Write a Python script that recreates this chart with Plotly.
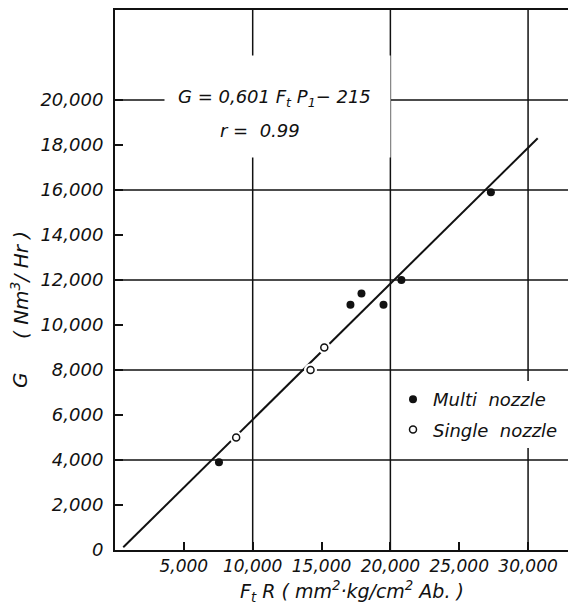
import plotly.graph_objects as go

# ---- data ----
multi_x = [7550, 17100, 17900, 19500, 20800, 27300]
multi_y = [3900, 10900, 11400, 10900, 12000, 15900]
single_x = [8800, 14200, 15200]
single_y = [5000, 8000, 9000]
fit_x = [600, 30700]
fit_y = [120, 18300]

x_tickvals = [5000, 10000, 15000, 20000, 25000, 30000]
x_ticktext = ["5,000", "10,000", "15,000", "20,000", "25,000", "30,000"]
y_tickvals = [0, 2000, 4000, 6000, 8000, 10000, 12000, 14000, 16000, 18000, 20000]
y_ticktext = ["0", "2,000", "4,000", "6,000", "8,000", "10,000", "12,000",
              "14,000", "16,000", "18,000", "20,000"]
x_grid = [10000, 20000, 30000]
y_grid = [4000, 8000, 12000, 16000, 20000]

INK = "#111111"
FONT = "DejaVu Sans"

fig = go.Figure()

fig.add_trace(go.Scatter(x=fit_x, y=fit_y, mode="lines",
                         line=dict(color=INK, width=2), showlegend=False,
                         hoverinfo="skip"))
# white halo making the gap in the line around the open circles
fig.add_trace(go.Scatter(x=single_x, y=single_y, mode="markers",
                         marker=dict(size=13, color="white"), showlegend=False,
                         hoverinfo="skip"))
fig.add_trace(go.Scatter(x=multi_x, y=multi_y, mode="markers", name="Multi  nozzle",
                         legendgroup="a",
                         marker=dict(size=8, color=INK, symbol="circle")))
fig.add_trace(go.Scatter(x=single_x, y=single_y, mode="markers", name="Single  nozzle",
                         legendgroup="b",
                         marker=dict(size=7, color="white", symbol="circle",
                                     line=dict(color=INK, width=1.5))))

shapes = []
for gx in x_grid:
    shapes.append(dict(type="line", xref="x", yref="paper", x0=gx, x1=gx, y0=0, y1=1,
                       line=dict(color=INK, width=1.5), layer="below"))
for gy in y_grid:
    shapes.append(dict(type="line", xref="paper", yref="y", x0=0, x1=1, y0=gy, y1=gy,
                       line=dict(color=INK, width=1.5), layer="below"))

W, H = 568, 606
L, T, B = 115, 10, 56
pw, ph = W - L, H - T - B


def px(xp):
    return (xp - L) / pw


def py(yp):
    return (H - B - yp) / ph


tf = dict(family=FONT, size=18, color=INK, style="italic")
xtf = dict(family=FONT, size=17, color=INK, style="italic")
big = dict(family=FONT, size=20, color=INK, style="italic")


def ann(xp, yp, text, **kw):
    d = dict(xref="paper", yref="paper", x=px(xp), y=py(yp), text=text,
             showarrow=False, xanchor="center", yanchor="middle")
    d.update(kw)
    return d


annotations = [
    # white box interrupting the grid behind the equation
    ann(277.5, 106.5, " ", width=225, height=101, bgcolor="white", borderpad=0),
    ann(274, 98, "G = 0,601 F<sub>t</sub> P<sub>1</sub>− 215", font=tf),
    ann(260, 130, "r =  0.99", font=tf),
    ann(20, 380, "G", textangle=-90, font=big),
    ann(20, 285, "( Nm<sup>3</sup>/ Hr )", textangle=-90, font=big),
    ann(352, 591, "F<sub>t</sub> R ( mm<sup>2</sup>·kg/cm<sup>2</sup> Ab. )",
        font=dict(family=FONT, size=19, color=INK, style="italic")),
]

fig.update_layout(
    width=W, height=H,
    margin=dict(l=L, r=0, t=T, b=B),
    paper_bgcolor="white", plot_bgcolor="white",
    shapes=shapes, annotations=annotations,
    showlegend=True,
    legend=dict(x=px(393), y=py(381), xanchor="left", yanchor="top",
                bgcolor="white", borderwidth=0, traceorder="grouped",
                tracegroupgap=4,
                font=dict(family=FONT, size=18, color=INK, style="italic")),
    xaxis=dict(range=[0, 32900], tickvals=x_tickvals, ticktext=x_ticktext,
               ticks="inside", ticklen=8, tickwidth=1.5, tickcolor=INK,
               showgrid=False, zeroline=False, showline=True, linecolor=INK,
               linewidth=2, mirror=True, tickfont=xtf, ticklabelstandoff=0),
    yaxis=dict(range=[0, 24000], tickvals=y_tickvals, ticktext=y_ticktext,
               ticks="inside", ticklen=8, tickwidth=1.5, tickcolor=INK,
               showgrid=False, zeroline=False, showline=True, linecolor=INK,
               linewidth=2, mirror=False, tickfont=tf, ticklabelstandoff=6),
)

fig.write_html("out.html", config={"displayModeBar": False},
               post_script="document.body.style.margin='0';"
                           "document.body.style.overflow='hidden';")
